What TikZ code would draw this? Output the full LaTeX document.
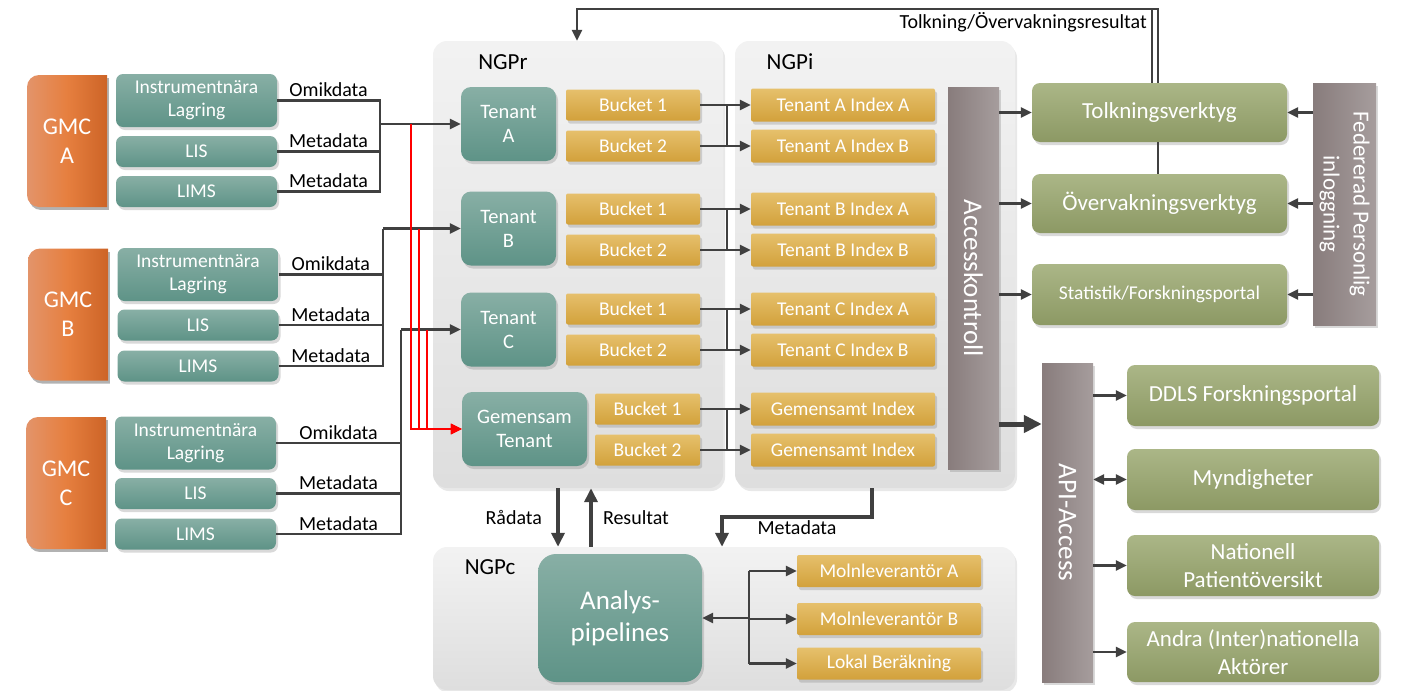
\documentclass[tikz,border=0pt]{standalone}
\usepackage{fontspec}
\setmainfont{Carlito}
\usetikzlibrary{arrows.meta,shadows}

\definecolor{tealtop}{HTML}{88AFA5}
\definecolor{tealbot}{HTML}{5E9387}
\definecolor{goldtop}{HTML}{E6C06C}
\definecolor{goldbot}{HTML}{D2A13B}
\definecolor{olivetop}{HTML}{ABB687}
\definecolor{olivebot}{HTML}{8C9964}
\definecolor{barleft}{HTML}{887C7C}
\definecolor{barright}{HTML}{A69D9D}
\definecolor{gmcleft}{HTML}{E3946A}
\definecolor{gmcmid}{HTML}{E67F3F}
\definecolor{gmcright}{HTML}{CD6427}
\definecolor{wiregray}{HTML}{404040}

\begin{document}
\begin{tikzpicture}[x=1pt,y=-1pt,
    font=\fontsize{19.5}{23}\selectfont,
    box/.style={inner sep=0pt, text=white, align=center,
      drop shadow={shadow xshift=2pt,shadow yshift=-3pt,opacity=.3}},
    tealbox/.style={box, rounded corners=7pt, top color=tealtop, bottom color=tealbot},
    tenant/.style={tealbox, rounded corners=10pt, minimum width=95pt, minimum height=74pt,
      font=\fontsize{20.5}{24}\selectfont},
    goldbox/.style={box, rounded corners=2pt, top color=goldtop, bottom color=goldbot, minimum height=31pt},
    olivebox/.style={box, rounded corners=8pt, top color=olivetop, bottom color=olivebot,
      minimum width=255pt, font=\fontsize{23}{28}\selectfont},
    barbox/.style={box, left color=barleft, right color=barright, font=\fontsize{27}{30}\selectfont},
    panel/.style={rounded corners=14pt, top color=black!5, bottom color=black!13,
      drop shadow={shadow xshift=2pt,shadow yshift=-3pt,opacity=.18}},
    wire/.style={draw=wiregray, line width=2.8pt},
    arrow/.style={wire, -{Triangle[length=11pt,width=10pt]}},
    fat/.style={draw=wiregray, line width=4pt, -{Triangle[length=14pt,width=13pt]}},
    redwire/.style={draw=red, line width=2.8pt, -{Triangle[length=11pt,width=10pt]}},
    lbl/.style={text=black, inner sep=2pt, font=\fontsize{20}{23}\selectfont}]
  \tikzstyle{title}=[text=black, font=\fontsize{23}{26}\selectfont]

  \useasboundingbox (0,0) rectangle (1401,691);

  % panels
  \node[panel, minimum width=290pt, minimum height=447pt] (ngpr) at (578,264.5) {};
  \node[panel, minimum width=280pt, minimum height=447pt] (ngpi) at (875,264.5) {};
  \node[panel, minimum width=582pt, minimum height=143pt] (ngpc) at (724,618.5) {};
  \node[title] (lblr) at (503,62) {NGPr};
  \node[title] (lbli) at (790,62) {NGPi};
  \node[title] (lblc) at (490,567) {NGPc};

  % GMC sources
  \foreach \g/\x/\y in {A/67/141, B/68/314.5, C/66/483} {
    \begin{scope}[shift={(2,3)}]
      \clip[rounded corners=12pt] (\x-40,\y-66) rectangle (\x+60,\y+66);
      \fill[black, opacity=.3] (\x-40,\y-66) rectangle (\x+40,\y+66);
    \end{scope}
    \begin{scope}
      \clip[rounded corners=12pt] (\x-40,\y-66) rectangle (\x+60,\y+66);
      \shade[left color=gmcleft, right color=gmcright, middle color=gmcmid]
        (\x-40,\y-66) rectangle (\x+40,\y+66);
    \end{scope}
    \node[text=white, align=center, font=\fontsize{24}{29}\selectfont] (gmc\g) at (\x,\y) {GMC\\\g};
  }
  \foreach \g/\x/\yi/\yl/\ym in {A/196.5/100.5/151.5/191.5, B/198/274.5/325/366, C/195.5/443/493.5/534} {
    \node[tealbox, minimum width=161pt, minimum height=53pt] (inst\g) at (\x,\yi) {Instrumentnära\\Lagring};
    \node[tealbox, minimum width=161pt, minimum height=31pt] (lis\g) at (\x,\yl) {LIS};
    \node[tealbox, minimum width=161pt, minimum height=31pt] (lims\g) at (\x,\ym) {LIMS};
  }

  % NGPr / NGPi
  \foreach \tn/\y in {A/124, B/228.5, C/329.5}
    \node[tenant] (ten\tn) at (508.5,\y) {Tenant\\\tn};
  \node[tenant, minimum width=125pt] (tenG) at (524.5,429) {Gemensam\\Tenant};

  \foreach \tn/\ya/\yb in {A/105/146, B/209/250, C/309/350} {
    \node[goldbox, minimum width=134pt] (b\tn1) at (633,\ya) {Bucket 1};
    \node[goldbox, minimum width=134pt] (b\tn2) at (633,\yb) {Bucket 2};
    \node[goldbox, minimum width=184pt, minimum height=33pt] (i\tn1) at (843,\ya) {Tenant \tn{} Index A};
    \node[goldbox, minimum width=184pt, minimum height=33pt] (i\tn2) at (843,\yb) {Tenant \tn{} Index B};
  }
  \node[goldbox, minimum width=105pt] (bG1) at (647.5,409) {Bucket 1};
  \node[goldbox, minimum width=105pt] (bG2) at (647.5,450) {Bucket 2};
  \node[goldbox, minimum width=184pt, minimum height=33pt] (iG1) at (843,409) {Gemensamt Index};
  \node[goldbox, minimum width=184pt, minimum height=33pt] (iG2) at (843,450) {Gemensamt Index};

  \node[barbox, minimum width=51pt, minimum height=382pt] (acc) at (973.5,278) {\rotatebox{-90}{Accesskontroll}};

  % tools
  \node[olivebox, minimum height=59pt] (tolk) at (1159.5,112.5) {Tolkningsverktyg};
  \node[olivebox, minimum height=59pt] (overv) at (1159.5,203.5) {Övervakningsverktyg};
  \node[olivebox, minimum height=61pt, font=\fontsize{19.5}{23}\selectfont] (stat) at (1159.5,294.5) {Statistik/Forskningsportal};
  \node[barbox, minimum width=63pt, minimum height=242pt, font=\fontsize{23}{30}\selectfont] (fed) at (1344.5,204)
    {\rotatebox{-90}{\begin{tabular}{@{}c@{}}Federerad Personlig\\inloggning\end{tabular}}};

  \node[barbox, minimum width=51pt, minimum height=319pt] (api) at (1067.5,522.5) {\rotatebox{-90}{API-Access}};
  \node[olivebox, minimum width=252pt, minimum height=61pt] (ddls) at (1253,395.5) {DDLS Forskningsportal};
  \node[olivebox, minimum width=252pt, minimum height=61pt] (mynd) at (1253,479.5) {Myndigheter};
  \node[olivebox, minimum width=252pt, minimum height=61pt] (nat) at (1253,565.5) {Nationell\\Patientöversikt};
  \node[olivebox, minimum width=252pt, minimum height=60pt] (andra) at (1253,652) {Andra (Inter)nationella\\Aktörer};

  % NGPc
  \node[tealbox, minimum width=164pt, minimum height=128pt, rounded corners=18pt,
    font=\fontsize{27}{32}\selectfont] (analys) at (620,618) {Analys-\\pipelines};
  \node[goldbox, minimum width=184pt, minimum height=32pt] (mA) at (889,571) {Molnleverantör A};
  \node[goldbox, minimum width=184pt, minimum height=32pt] (mB) at (889,619) {Molnleverantör B};
  \node[goldbox, minimum width=184pt, minimum height=32pt] (lok) at (889,663.5) {Lokal Beräkning};

  % sources to tenants
  \coordinate (jA) at (380,124);
  \coordinate (jB) at (383,228.5);
  \coordinate (jC) at (401,329.5);
  \foreach \g in {A,B,C} {
    \draw[wire] (inst\g.east) -| node[lbl, above, pos=.25] {Omikdata} (j\g);
    \draw[wire] (lis\g.east) -| node[lbl, above, pos=.25] {Metadata} (j\g);
    \draw[wire] (lims\g.east) -| node[lbl, above, pos=.25] {Metadata} (j\g);
    \draw[arrow] (j\g) -- (ten\g.west);
  }
  \coordinate (rA) at (411,124);
  \coordinate (rB) at (419,228.5);
  \coordinate (rC) at (427,329.5);
  \foreach \r in {rA,rB,rC}
    \draw[redwire] (\r) |- (tenG.west);

  % buckets to indexes
  \coordinate (kx) at (727,0);
  \foreach \tn in {A,B,C,G} {
    \draw[wire] (b\tn1.east -| kx) -- (b\tn2.east -| kx);
    \draw[arrow] (b\tn1.east) -- (b\tn1.east -| kx) -- (i\tn1.west);
    \draw[arrow] (b\tn2.east) -- (b\tn2.east -| kx) -- (i\tn2.west);
  }

  % access
  \foreach \n in {tolk,overv,stat} {
    \draw[arrow] (\n.west -| acc.east) -- (\n.west);
    \draw[arrow] (\n.east -| fed.west) -- (\n.east);
  }
  \coordinate (accout) at (999,424);
  \draw[draw=wiregray, line width=5pt, -{Triangle[length=18pt,width=17pt]}] (accout) -- (accout -| api.west);
  \foreach \n in {ddls,nat,andra}
    \draw[arrow] (\n.west -| api.east) -- (\n.west);
  \draw[wire, {Triangle[length=11pt,width=10pt]}-{Triangle[length=11pt,width=10pt]}] (mynd.west -| api.east) -- (mynd.west);

  % feedback
  \coordinate (fb1) at (1152,9);
  \coordinate (fb2) at (1158,9);
  \coordinate (fbL) at (577,9);
  \draw[wire, line width=2pt] (tolk.south -| fb2) -- (overv.north -| fb2);
  \draw[wire, line width=2pt] (tolk.north -| fb1) -- (fb1);
  \draw[arrow, line width=2.5pt] (tolk.north -| fb2) -- (fb2)
    node[lbl, anchor=north east, xshift=-8pt] {Tolkning/Övervakningsresultat} -- (fbL) -- (fbL |- ngpr.north);

  % compute
  \coordinate (xr) at (558,0);
  \coordinate (xs) at (591,0);
  \draw[fat] (xr |- ngpr.south) -- node[lbl, left, xshift=-12pt] {Rådata} (xr |- ngpc.north);
  \draw[fat] (xs |- ngpc.north) -- node[lbl, right, xshift=8pt] {Resultat} (xs |- ngpr.south);
  \coordinate (md1) at (872,517);
  \coordinate (md2) at (722,517);
  \draw[fat] (md1 |- ngpi.south) -- (md1) -- node[lbl, below] {Metadata} (md2) -- (md2 |- ngpc.north);

  \coordinate (cj) at (749,0);
  \draw[arrow] (analys.east -| cj) -- (analys.east);
  \draw[wire] (mA.west -| cj) -- (lok.west -| cj);
  \foreach \n in {mA,mB,lok}
    \draw[arrow] (\n.west -| cj) -- (\n.west);
\end{tikzpicture}
\end{document}
